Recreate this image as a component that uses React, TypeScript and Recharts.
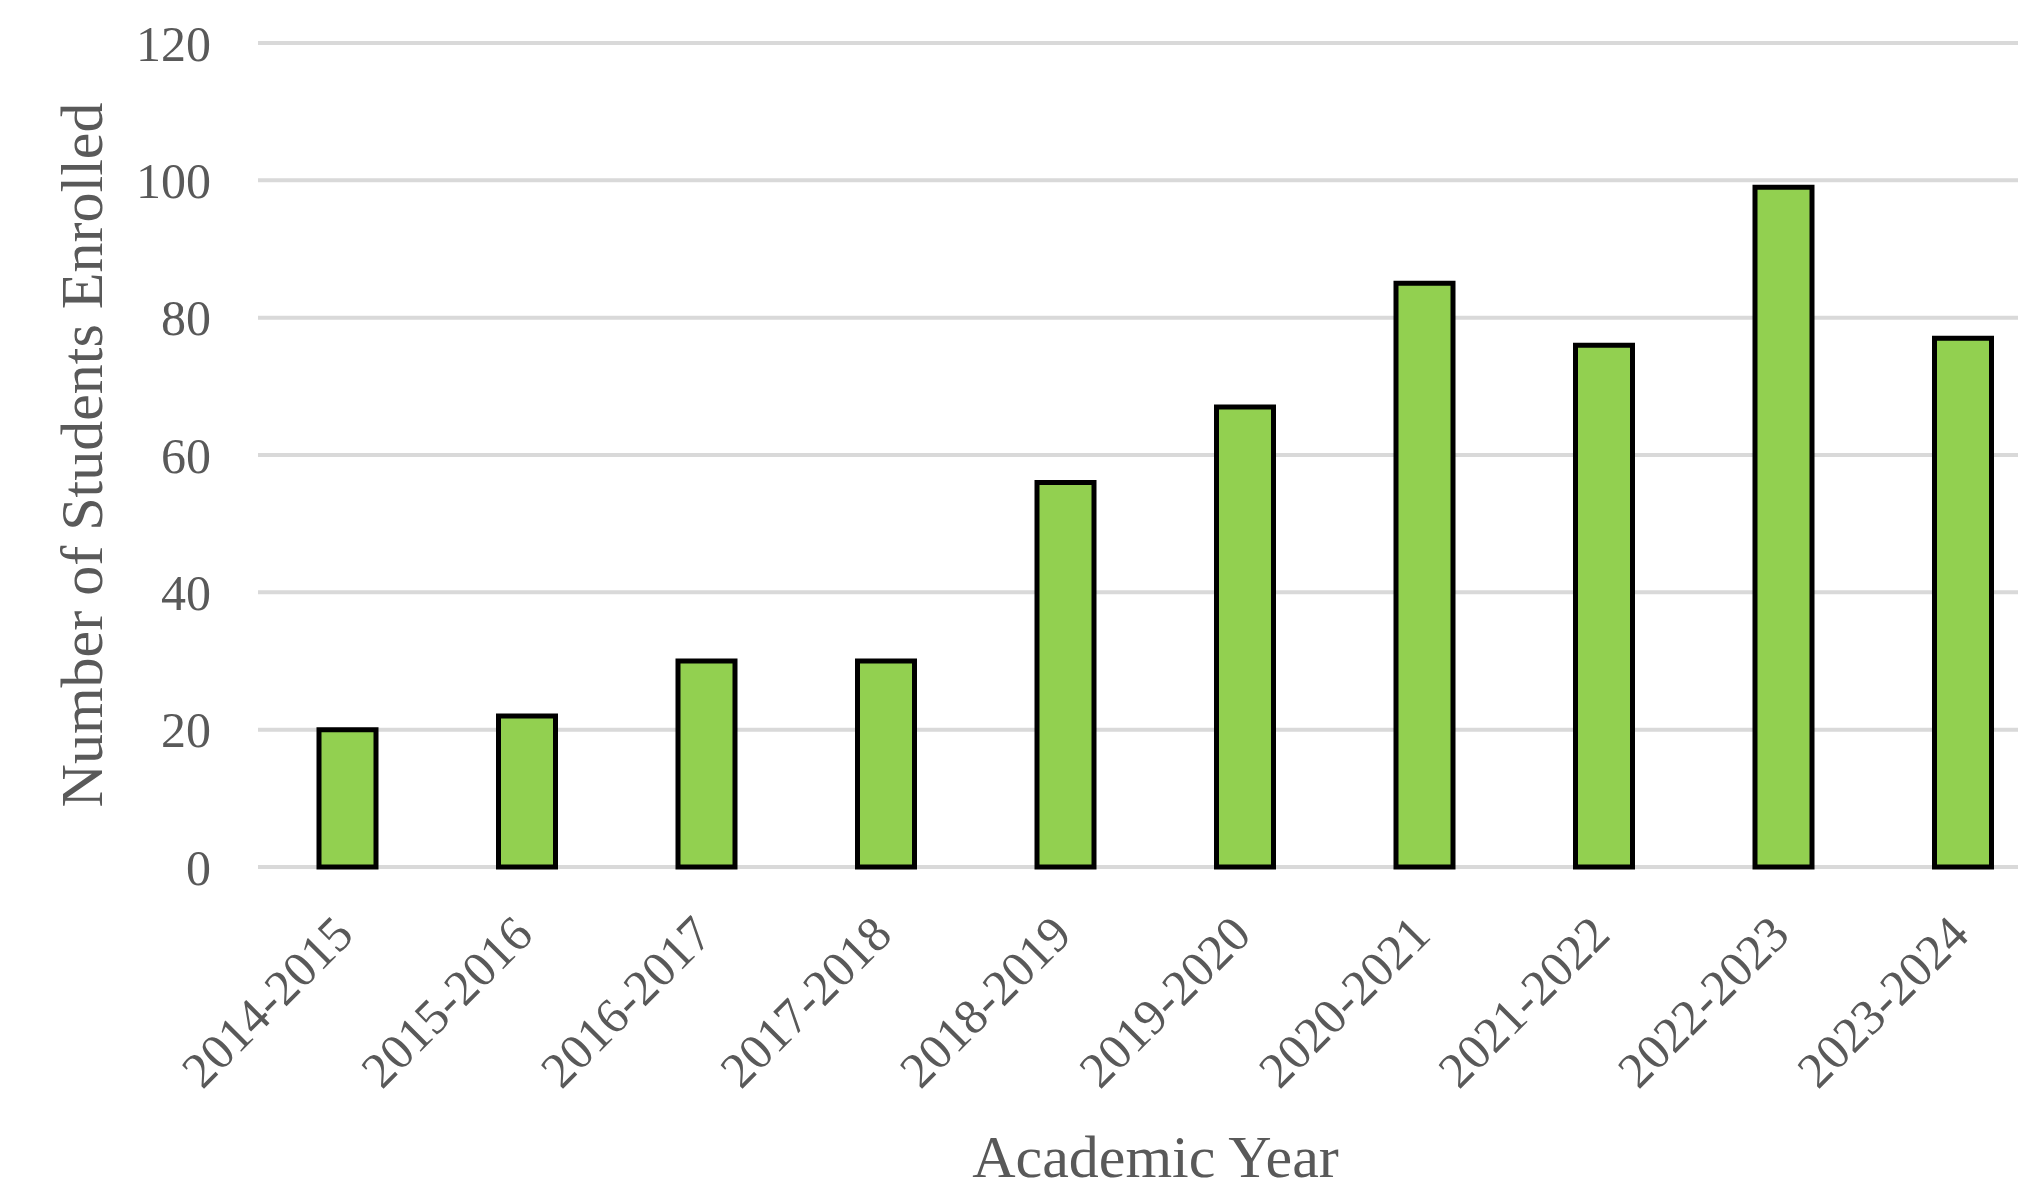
import { BarChart, Bar, XAxis, YAxis, CartesianGrid, Label } from "recharts";

const years = [
  "2014-2015",
  "2015-2016",
  "2016-2017",
  "2017-2018",
  "2018-2019",
  "2019-2020",
  "2020-2021",
  "2021-2022",
  "2022-2023",
  "2023-2024",
];
const students = [20, 22, 30, 30, 56, 67, 85, 76, 99, 77];
const yTicks = [0, 20, 40, 60, 80, 100, 120];

const data = years.map((year, i) => ({ year, students: students[i] }));

const FONT = '"Liberation Serif", "Times New Roman", serif';
const TEXT = "#595959";

function YearTick(props: any) {
  const { x, y, payload } = props;
  return (
    <g transform={`translate(${x + 8},${y + 70})`}>
      <text
        transform="rotate(-45)"
        textAnchor="end"
        fontFamily={FONT}
        fontSize={50}
        fill={TEXT}
      >
        {payload.value}
      </text>
    </g>
  );
}

function YTitle(props: any) {
  const vb = props.viewBox;
  const cy = vb.y + vb.height / 2;
  return (
    <text
      x={102}
      y={cy}
      transform={`rotate(-90, 102, ${cy})`}
      textAnchor="middle"
      fontFamily={FONT}
      fontSize={60}
      fill={TEXT}
    >
      Number of Students Enrolled
    </text>
  );
}

function XTitle(props: any) {
  const vb = props.viewBox;
  return (
    <text
      x={vb.x + vb.width / 2}
      y={vb.y + 310}
      textAnchor="middle"
      fontFamily={FONT}
      fontSize={60}
      fill={TEXT}
    >
      Academic Year
    </text>
  );
}

export default function App() {
  return (
    <div
      style={{
        position: "fixed",
        left: 0,
        top: 0,
        width: 2018,
        height: 1190,
        overflow: "hidden",
        background: "#fff",
      }}
    >
      <BarChart
        width={2060}
        height={1190}
        data={data}
        margin={{ top: 43, right: 7, left: 0, bottom: 0 }}
        barCategoryGap={0}
      >
        <CartesianGrid vertical={false} stroke="#d9d9d9" strokeWidth={4} />
        <XAxis
          dataKey="year"
          height={323}
          axisLine={false}
          tickLine={false}
          tickSize={0}
          tickMargin={0}
          interval={0}
          tick={<YearTick />}
        >
          <Label content={<XTitle />} />
        </XAxis>
        <YAxis
          width={258}
          domain={[0, 120]}
          ticks={yTicks}
          axisLine={false}
          tickLine={false}
          tickSize={0}
          tickMargin={47}
          tick={{ fontFamily: FONT, fontSize: 50, fill: TEXT }}
        >
          <Label content={<YTitle />} />
        </YAxis>
        <Bar
          dataKey="students"
          fill="#92d050"
          stroke="#000"
          strokeWidth={5}
          barSize={57}
          isAnimationActive={false}
        />
      </BarChart>
    </div>
  );
}
